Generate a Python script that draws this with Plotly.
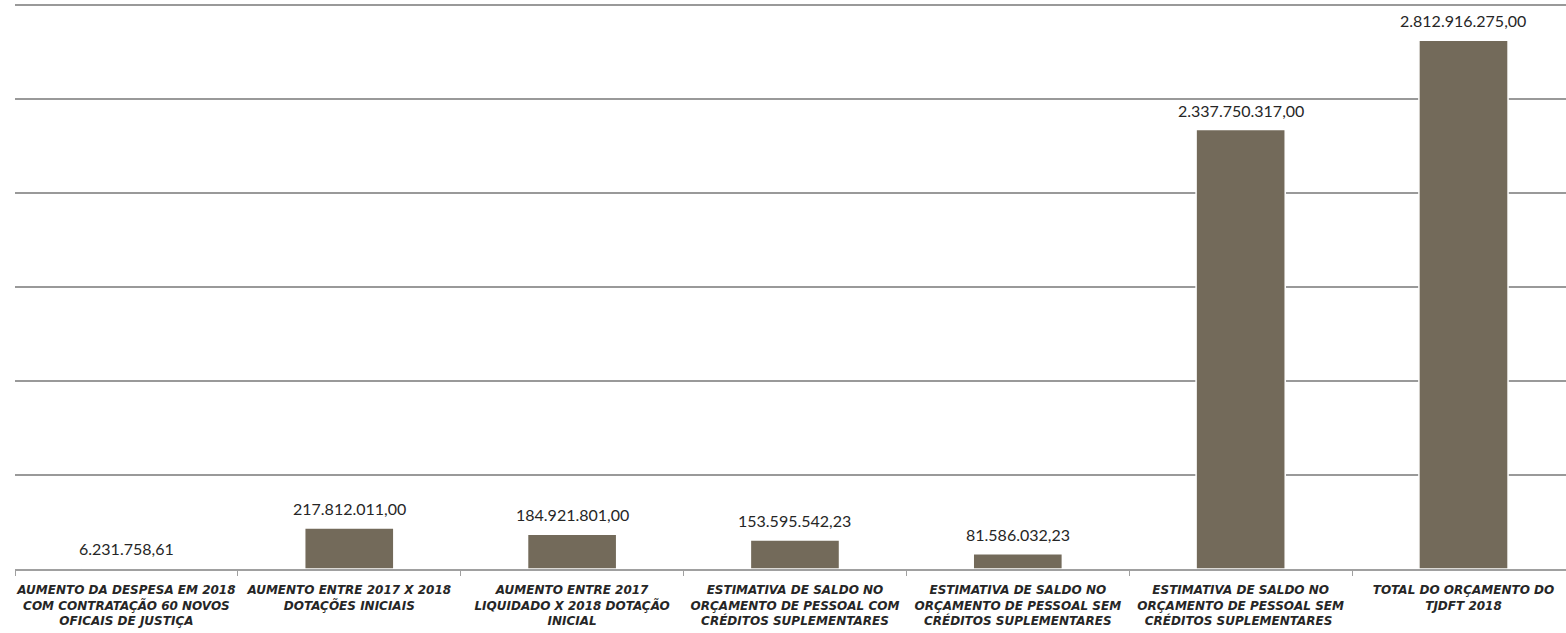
import plotly.graph_objects as go

categories = [
    "AUMENTO DA DESPESA EM 2018<br>COM CONTRATAÇÃO 60 NOVOS<br>OFICAIS DE JUSTIÇA",
    "AUMENTO ENTRE 2017 X 2018<br>DOTAÇÕES INICIAIS",
    "AUMENTO ENTRE 2017<br>LIQUIDADO X 2018 DOTAÇÃO<br>INICIAL",
    "ESTIMATIVA DE SALDO NO<br>ORÇAMENTO DE PESSOAL COM<br>CRÉDITOS SUPLEMENTARES",
    "ESTIMATIVA DE SALDO NO<br>ORÇAMENTO DE PESSOAL SEM<br>CRÉDITOS SUPLEMENTARES",
    "ESTIMATIVA DE SALDO NO<br>ORÇAMENTO DE PESSOAL SEM<br>CRÉDITOS SUPLEMENTARES ",
    "TOTAL DO ORÇAMENTO DO<br>TJDFT 2018",
]
values = [6231758.61, 217812011.00, 184921801.00, 153595542.23,
          81586032.23, 2337750317.00, 2812916275.00]

def br_fmt(v):
    s = f"{v:,.2f}"
    return s.replace(",", "X").replace(".", ",").replace("X", ".")

labels = [br_fmt(v) for v in values]
cats = [f"<b><i>{c}</i></b>" for c in categories]

fig = go.Figure()
fig.add_trace(go.Bar(
    x=cats, y=values,
    marker=dict(color="#736a5a", line=dict(color="white", width=1.5)),
    hoverinfo="skip",
))

for x, v, t in zip(cats, values, labels):
    fig.add_annotation(x=x, y=v, text=t, showarrow=False, yanchor="bottom",
                       yshift=8, font=dict(family="Lato", size=16, color="#262626"))

fig.update_layout(
    width=1566, height=633,
    margin=dict(l=15, r=0, t=0, b=64),
    paper_bgcolor="white", plot_bgcolor="white",
    bargap=0.6, showlegend=False,
    xaxis=dict(
        type="category", categoryorder="array", categoryarray=cats,
        range=[-0.5, 6.46], showgrid=False, showline=True, linecolor="#a0a0a0", linewidth=1.5,
        ticks="outside", tickson="boundaries", ticklen=5, tickcolor="#a0a0a0",
        ticklabelstandoff=9, automargin=False,
        tickfont=dict(family="DejaVu Sans", size=12, color="#262626"), tickangle=0,
    ),
    yaxis=dict(
        range=[0, 3.0266e9], tickmode="array", tickvals=[5e8, 1e9, 1.5e9, 2e9, 2.5e9, 3e9],
        showticklabels=False, showgrid=True, automargin=False,
        gridcolor="#999999", gridwidth=1.5, zeroline=False, showline=False,
    ),
)

fig.write_html("out.html", config={"displayModeBar": False},
               post_script="document.body.style.margin='0';document.body.style.overflow='hidden';")
